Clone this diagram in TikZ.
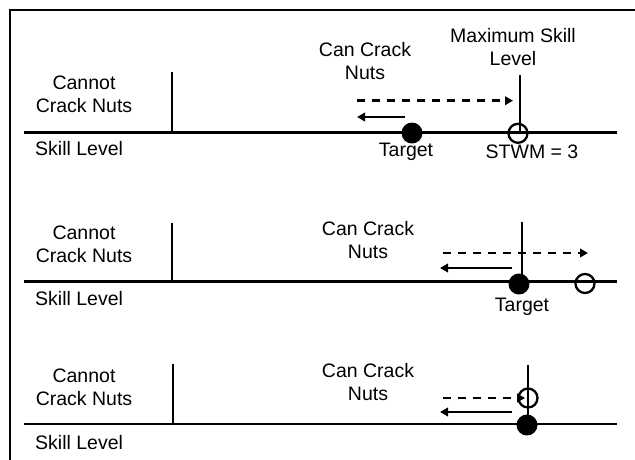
\documentclass[tikz,border=0pt]{standalone}
\usepackage{fontspec}
\setmainfont{Liberation Sans}
\usetikzlibrary{arrows.meta}
\begin{document}
\begin{tikzpicture}[x=1pt,y=-1pt,
  lbl/.style={font=\fontsize{19.5}{23}\selectfont, align=center, inner sep=0pt, text=black},
  axisline/.style={line width=2.5pt},
  divline/.style={line width=2.5pt},
  maxline/.style={line width=1.8pt},
  dasharrow/.style={line width=2.5pt, dash pattern=on 8pt off 7pt, -{Triangle[length=8pt,width=8.5pt]}},
  solidarrow/.style={line width=2.5pt, -{Triangle[length=8pt,width=8.5pt]}},
  fulldot/.style={circle, fill=black, minimum size=21pt, inner sep=0pt},
  opendot/.style={circle, draw=black, line width=2.3pt, minimum size=19pt, inner sep=0pt},
]
\useasboundingbox (0,0) rectangle (635,459);
% frame (right and bottom edges lie outside the picture)
\coordinate (fbl) at (10,470);
\coordinate (ftl) at (10,10);
\coordinate (ftr) at (650,10);
\draw[line width=2.8pt] (fbl) -- (ftl) -- (ftr);

% ---------------- Panel 1 ----------------
\coordinate (a1l) at (24,132.7);
\coordinate (a1r) at (617,132.7);
\coordinate (d1t) at (172,72);
\coordinate (d1b) at (172,132.7);
\coordinate (m1t) at (520,75);
\coordinate (m1b) at (520,132.7);
\draw[axisline] (a1l) -- (a1r);
\draw[divline] (d1t) -- (d1b);
\draw[maxline] (m1t) -- (m1b);
\node[lbl] (cn1) at (84,94.5) {Cannot\\Crack Nuts};
\node[lbl, anchor=west] (sl1) at (35,149) {Skill Level};
\node[lbl] (cc1) at (365,61) {Can Crack\\Nuts};
\node[lbl] (ms1) at (513,47.5) {Maximum Skill\\Level};
\node[opendot] (o1) at (518,133.3) {};
\node[fulldot] (f1) at (412,133) {};
\node[lbl] (t1) at (406,151.5) {Target};
\node[lbl] (st1) at (532,152) {STWM = 3};
\coordinate (da1s) at (357,100.7);
\coordinate (da1e) at (513,100.7);
\coordinate (sa1s) at (405,117);
\coordinate (sa1e) at (357,117);
\draw[dasharrow] (da1s) -- (da1e);
\draw[solidarrow] (sa1s) -- (sa1e);

% ---------------- Panel 2 ----------------
\coordinate (a2l) at (24,281.7);
\coordinate (a2r) at (617,281.7);
\coordinate (d2t) at (172,222.7);
\coordinate (d2b) at (172,281.7);
\coordinate (m2t) at (522,222);
\coordinate (m2b) at (522,281.7);
\draw[axisline] (a2l) -- (a2r);
\draw[divline] (d2t) -- (d2b);
\draw[maxline] (m2t) -- (m2b);
\node[lbl] (cn2) at (84,244) {Cannot\\Crack Nuts};
\node[lbl, anchor=west] (sl2) at (35,299) {Skill Level};
\node[lbl] (cc2) at (368,240.5) {Can Crack\\Nuts};
\node[fulldot] (f2) at (519,284) {};
\node[opendot] (o2) at (585,283.5) {};
\node[lbl] (t2) at (522,306.5) {Target};
\coordinate (da2s) at (443,253);
\coordinate (da2e) at (588,253);
\coordinate (sa2s) at (512,268);
\coordinate (sa2e) at (440,268);
\draw[dasharrow] (da2s) -- (da2e);
\draw[solidarrow] (sa2s) -- (sa2e);

% ---------------- Panel 3 ----------------
\coordinate (a3l) at (24,424);
\coordinate (a3r) at (617,424);
\coordinate (d3t) at (173,364);
\coordinate (d3b) at (173,424);
\coordinate (m3t) at (528,365);
\coordinate (m3b) at (528,424);
\draw[axisline] (a3l) -- (a3r);
\draw[divline] (d3t) -- (d3b);
\draw[maxline] (m3t) -- (m3b);
\node[lbl] (cn3) at (84,387) {Cannot\\Crack Nuts};
\node[lbl, anchor=west] (sl3) at (35,443) {Skill Level};
\node[lbl] (cc3) at (368,382.5) {Can Crack\\Nuts};
\node[opendot] (o3) at (528,398) {};
\node[fulldot] (f3) at (527,425) {};
\coordinate (da3s) at (443,398);
\coordinate (da3e) at (525,398);
\coordinate (sa3s) at (512,412);
\coordinate (sa3e) at (440,412);
\draw[dasharrow] (da3s) -- (da3e);
\draw[solidarrow] (sa3s) -- (sa3e);
\end{tikzpicture}
\end{document}
